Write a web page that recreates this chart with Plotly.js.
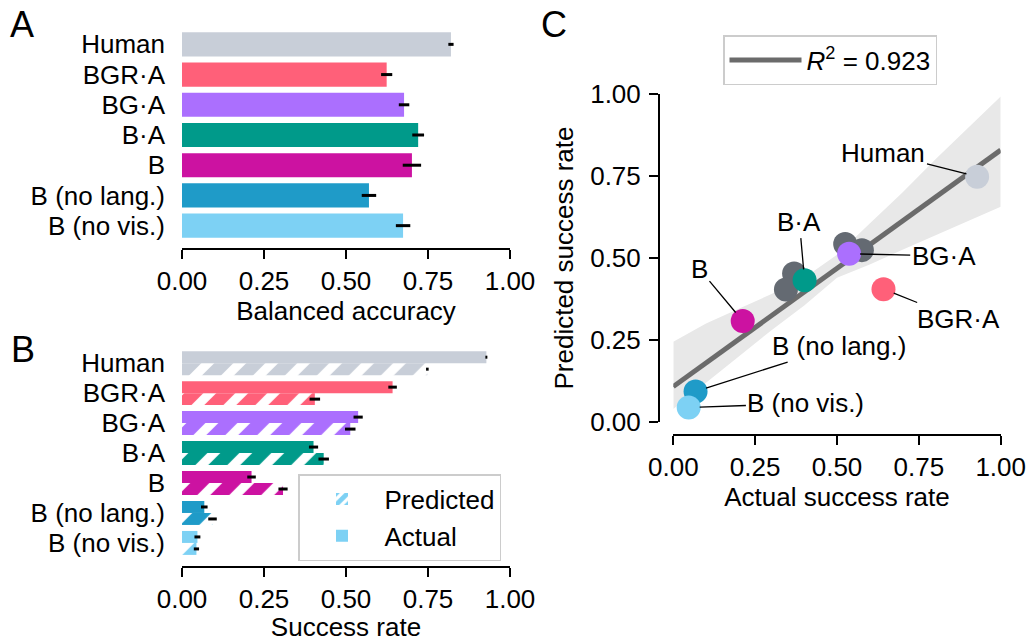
<!DOCTYPE html>
<html>
<head>
<meta charset="utf-8">
<script src="https://cdn.plot.ly/plotly-3.0.1.min.js"></script>
<style>html,body{margin:0;padding:0;background:#fff;}#chart{width:1029px;height:642px;}</style>
</head>
<body>
<div id="chart"></div>
<script>
// ---------- data (top-to-bottom order as shown) ----------
const categories = ['Human', 'BGR\u00B7A', 'BG\u00B7A', 'B\u00B7A', 'B', 'B (no lang.)', 'B (no vis.)'];
const balancedAcc = [0.820, 0.624, 0.677, 0.720, 0.701, 0.570, 0.674];
const balancedAccErr = [0.008, 0.017, 0.016, 0.018, 0.028, 0.022, 0.022];
const actualSR = [0.928, 0.642, 0.537, 0.401, 0.212, 0.068, 0.047];
const actualSRErr = [0.003, 0.013, 0.014, 0.014, 0.013, 0.010, 0.009];
const predictedSR = [0.748, 0.405, 0.513, 0.432, 0.308, 0.093, 0.044];
const predictedSRErr = [0.004, 0.016, 0.016, 0.016, 0.014, 0.013, 0.008];
const otherActual = [0.525, 0.576, 0.369, 0.344];
const otherPredicted = [0.543, 0.524, 0.453, 0.404];
const fitX = [0, 1];
const fitY = [0.108, 0.829];
const bandX = [0, 0.1, 0.2, 0.3, 0.4, 0.5, 0.6, 0.7, 0.8, 0.9, 1.0];
const bandUpper = [0.245, 0.300, 0.345, 0.390, 0.440, 0.510, 0.605, 0.700, 0.800, 0.895, 0.992];
const bandLower = [0.040, 0.120, 0.200, 0.280, 0.355, 0.440, 0.480, 0.525, 0.570, 0.613, 0.656];
const rSquared = 0.923;

// ---------- styles ----------
const colors = ['#c8ced8', '#ff6079', '#ab6ffe', '#009a8a', '#cc12a1', '#1f9bc8', '#7dd1f4'];
const otherColor = '#646a72';
const FONT = 'Liberation Sans, Arial, Helvetica, sans-serif';
const FS = 26;
const W = 1029, H = 642;
const px = v => v / W;
const py = v => 1 - v / H;
const rev = a => a.slice().reverse();

// label text positions for panel C (layout)
const labelPos = {
  'Human': [0.642, 0.821],
  'BGR\u00B7A': [0.872, 0.314],
  'BG\u00B7A': [0.826, 0.506],
  'B\u00B7A': [0.385, 0.611],
  'B': [0.080, 0.466],
  'B (no lang.)': [0.507, 0.233],
  'B (no vis.)': [0.405, 0.057]
};

const errStyle = {type: 'data', color: 'black', thickness: 3, width: 0};

const traces = [];
// Panel A
traces.push({
  type: 'bar', orientation: 'h', x: rev(balancedAcc), y: rev(categories),
  xaxis: 'x', yaxis: 'y', width: 0.8,
  marker: {color: rev(colors), line: {width: 0}},
  error_x: Object.assign({array: rev(balancedAccErr)}, errStyle),
  showlegend: false
});
// Panel B (hatched = predicted: coloured diagonal bands separated by white gaps)
traces.push({
  type: 'bar', orientation: 'h', name: 'Predicted', x: rev(predictedSR), y: rev(categories),
  xaxis: 'x2', yaxis: 'y2',
  marker: {color: rev(colors), line: {width: 0},
    pattern: {shape: '/', fillmode: 'replace', fgopacity: 1, size: 22.6, solidity: 0.6}},
  error_x: Object.assign({array: rev(predictedSRErr)}, errStyle),
  legend: 'legend'
});
traces.push({
  type: 'bar', orientation: 'h', name: 'Actual', x: rev(actualSR), y: rev(categories),
  xaxis: 'x2', yaxis: 'y2',
  marker: {color: rev(colors), line: {width: 0}},
  error_x: Object.assign({array: rev(actualSRErr)}, errStyle),
  legend: 'legend'
});
// Panel C
traces.push({
  type: 'scatter', mode: 'lines',
  x: bandX.concat(rev(bandX)), y: bandUpper.concat(rev(bandLower)),
  fill: 'toself', fillcolor: '#e8e8e8', line: {width: 0, color: 'rgba(0,0,0,0)'},
  xaxis: 'x3', yaxis: 'y3', showlegend: false, hoverinfo: 'skip'
});
traces.push({
  type: 'scatter', mode: 'lines', x: fitX, y: fitY,
  line: {color: '#6b6b6b', width: 5},
  name: '<i>R</i><sup>2</sup> = ' + rSquared.toFixed(3),
  xaxis: 'x3', yaxis: 'y3', legend: 'legend2', showlegend: true
});
traces.push({
  type: 'scatter', mode: 'markers', x: otherActual, y: otherPredicted,
  marker: {color: otherColor, size: 24, line: {width: 0}},
  xaxis: 'x3', yaxis: 'y3', showlegend: false, cliponaxis: false
});
traces.push({
  type: 'scatter', mode: 'markers', x: actualSR, y: predictedSR, text: categories,
  marker: {color: colors, size: 24, line: {width: 0}},
  xaxis: 'x3', yaxis: 'y3', showlegend: false, cliponaxis: false
});

const tickVals = [0, 0.25, 0.5, 0.75, 1];
const baseX = {
  range: [0, 1], tickvals: tickVals, tickformat: '.2f',
  showline: true, linewidth: 2, linecolor: 'black',
  ticks: 'outside', ticklen: 9, tickwidth: 2, tickcolor: 'black',
  showgrid: false, zeroline: false, fixedrange: true,
  tickfont: {family: FONT, size: FS, color: 'black'}
};
const baseYcat = {
  type: 'category', showline: false, ticks: '', showgrid: false, zeroline: false,
  tickmode: 'array', tickvals: categories, ticktext: categories,
  ticklabelstandoff: 16, fixedrange: true,
  tickfont: {family: FONT, size: FS, color: 'black'}
};

const annotations = [];
const letters = [['A', 8, 24], ['B', 9, 349], ['C', 539, 24]];
letters.forEach(l => annotations.push({
  xref: 'paper', yref: 'paper', x: px(l[1]), y: py(l[2]), xanchor: 'left', yanchor: 'middle',
  text: l[0], showarrow: false, font: {family: FONT, size: 36, color: 'black'}
}));
categories.forEach((c, i) => {
  const p = labelPos[c];
  annotations.push({
    xref: 'x3', yref: 'y3', x: actualSR[i], y: predictedSR[i],
    axref: 'x3', ayref: 'y3', ax: p[0], ay: p[1],
    text: c, showarrow: true, arrowhead: 0, arrowwidth: 1.3, arrowcolor: 'black',
    standoff: 11, font: {family: FONT, size: FS, color: 'black'}
  });
});

const layout = {
  width: W, height: H,
  margin: {l: 0, r: 0, t: 0, b: 0},
  paper_bgcolor: 'white', plot_bgcolor: 'rgba(0,0,0,0)',
  font: {family: FONT, size: FS, color: 'black'},
  barmode: 'group', bargap: 0.2, bargroupgap: 0,
  xaxis: Object.assign({}, baseX, {domain: [px(182), px(510)], anchor: 'y',
    title: {text: 'Balanced accuracy', standoff: 5, font: {family: FONT, size: FS}}}),
  yaxis: Object.assign({}, baseYcat, {domain: [py(248), py(22)], range: [-0.74, 6.74], anchor: 'x'}),
  xaxis2: Object.assign({}, baseX, {domain: [px(182), px(510)], anchor: 'y2',
    title: {text: 'Success rate', standoff: 5, font: {family: FONT, size: FS}}}),
  yaxis2: Object.assign({}, baseYcat, {domain: [py(566), py(341)], range: [-0.77, 6.74], anchor: 'x2'}),
  xaxis3: Object.assign({}, baseX, {domain: [px(673.3), px(1000.7)], anchor: 'free', position: py(435),
    title: {text: 'Actual success rate', standoff: 5, font: {family: FONT, size: FS}}}),
  yaxis3: Object.assign({}, baseX, {domain: [py(422), py(94)], anchor: 'free', position: px(659),
    ticklabelstandoff: 3,
    title: {text: 'Predicted success rate', standoff: 8, font: {family: FONT, size: FS}}}),
  legend: {
    x: px(298), y: py(474), xanchor: 'left', yanchor: 'top',
    bgcolor: 'white', bordercolor: '#cccccc', borderwidth: 1.5,
    font: {family: FONT, size: FS, color: 'black'}, traceorder: 'normal', itemwidth: 75
  },
  legend2: {
    x: px(723), y: py(35), xanchor: 'left', yanchor: 'top',
    bgcolor: 'white', bordercolor: '#cccccc', borderwidth: 1.5,
    font: {family: FONT, size: FS, color: 'black'}, itemwidth: 72
  },
  annotations: annotations
};

Plotly.newPlot('chart', traces, layout, {displayModeBar: false, staticPlot: true});
</script>
</body>
</html>
